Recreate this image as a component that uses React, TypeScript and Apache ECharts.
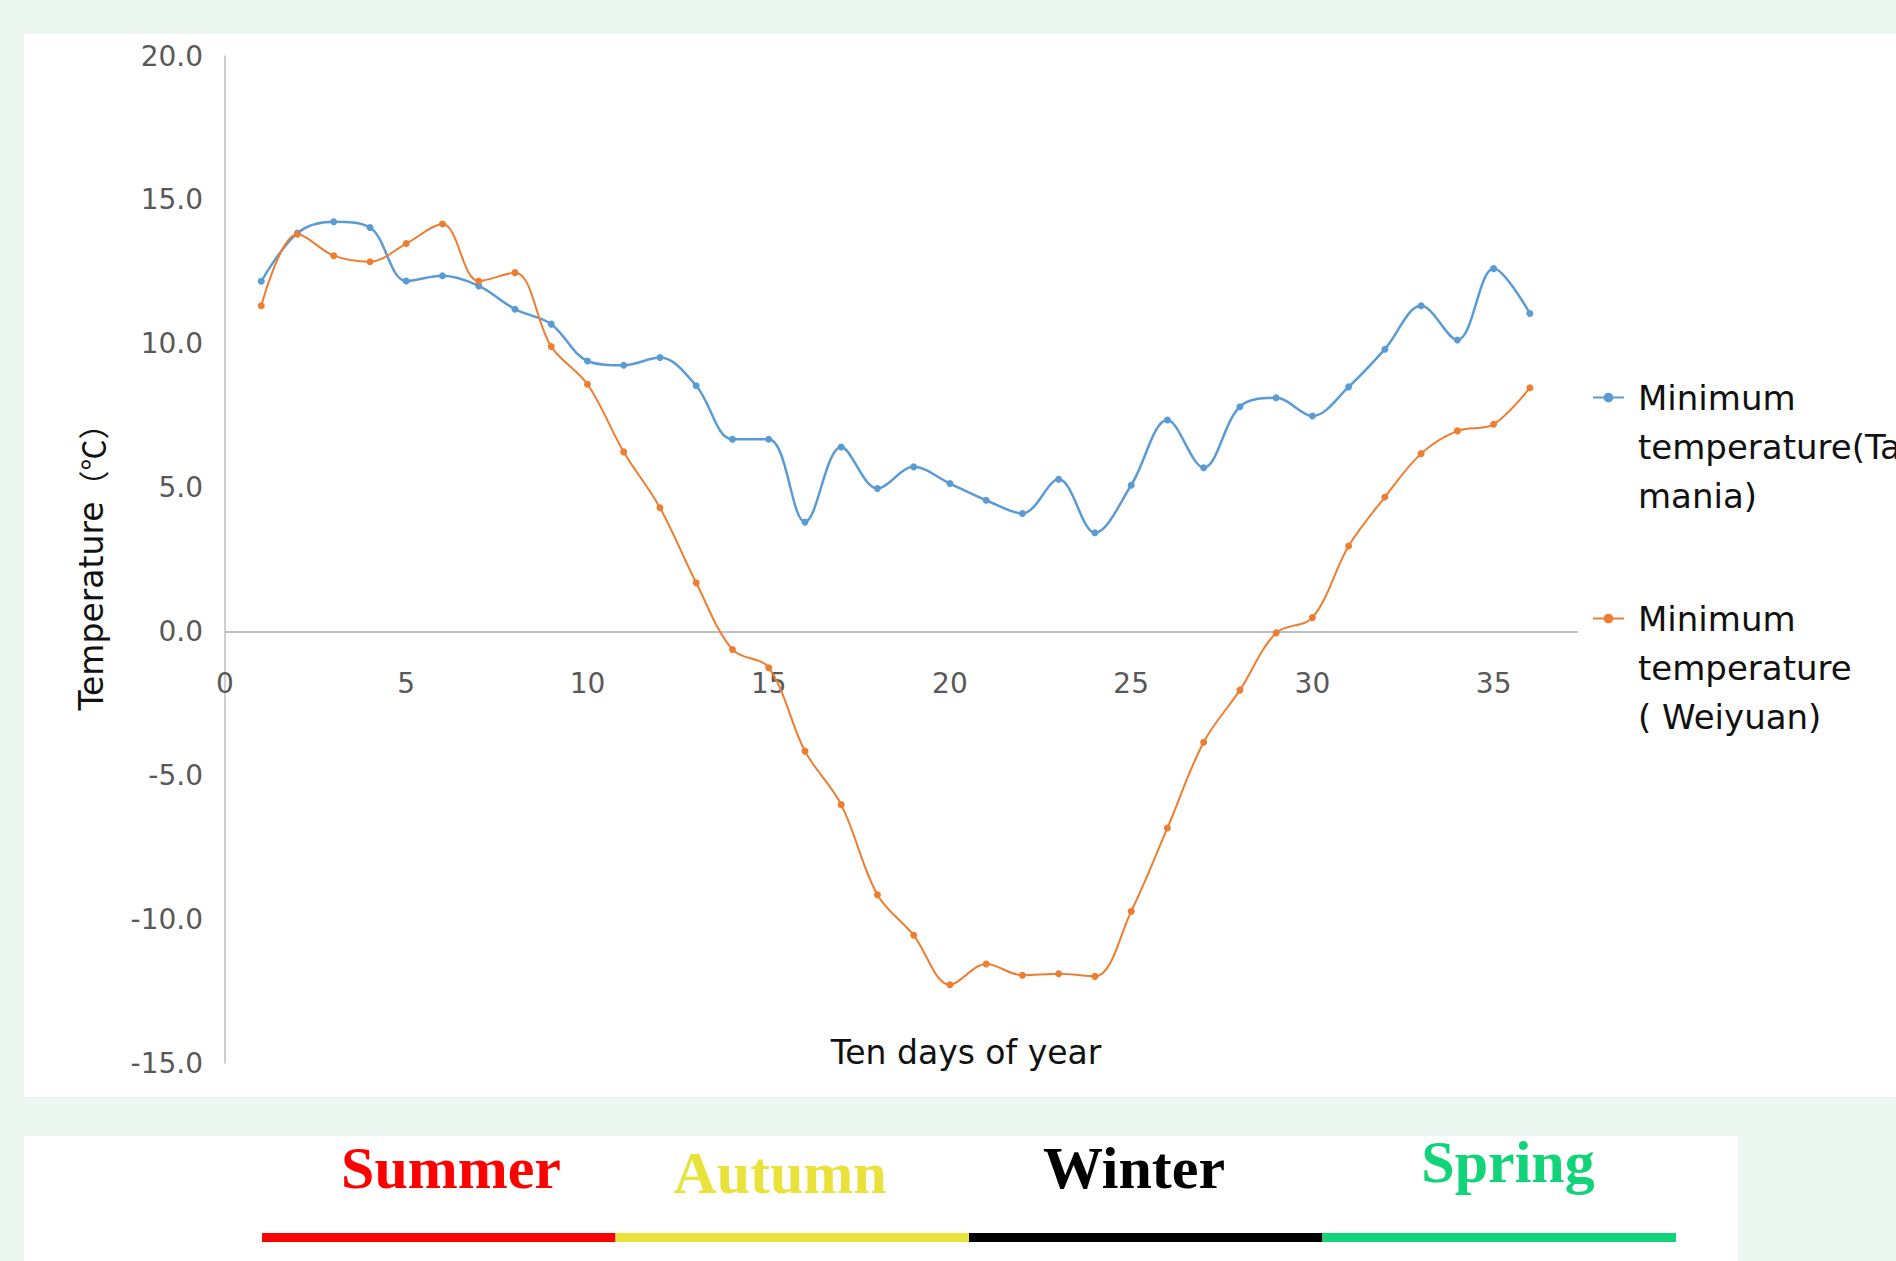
import React, { useEffect, useRef } from "react";
import * as echarts from "echarts";

const days = [1, 2, 3, 4, 5, 6, 7, 8, 9, 10, 11, 12, 13, 14, 15, 16, 17, 18, 19, 20, 21, 22, 23, 24, 25, 26, 27, 28, 29, 30, 31, 32, 33, 34, 35, 36];
const tasmania = [12.17, 13.85, 14.24, 14.04, 12.18, 12.36, 12.01, 11.2, 10.68, 9.4, 9.25, 9.52, 8.54, 6.68, 6.68, 3.8, 6.41, 4.97, 5.72, 5.14, 4.56, 4.1, 5.29, 3.43, 5.08, 7.35, 5.69, 7.81, 8.12, 7.49, 8.5, 9.81, 11.32, 10.13, 12.61, 11.05];
const weiyuan = [11.32, 13.81, 13.06, 12.85, 13.48, 14.16, 12.18, 12.47, 9.9, 8.59, 6.24, 4.3, 1.69, -0.63, -1.26, -4.16, -6.02, -9.15, -10.56, -12.28, -11.56, -11.95, -11.9, -11.99, -9.73, -6.83, -3.85, -2.04, -0.05, 0.48, 2.97, 4.67, 6.18, 6.97, 7.2, 8.47];
const seriesNames = ["Minimum temperature(Tasmania)", "Minimum temperature( Weiyuan)"];
const legendLabels = ["Minimum\ntemperature(Tas\nmania)", "Minimum\ntemperature\n( Weiyuan)"];
const seasons = ["Summer", "Autumn", "Winter", "Spring"];
const seasonColors = ["#FF0000", "#E8E23A", "#000000", "#10D477"];
const yTitleMain = "Temperature";
const yTitleUnit = "（℃）";
const xTitle = "Ten days of year";

const W = 1896;
const H = 1261;
const seasonTextX = [451, 780, 1134, 1508];
const seasonTextY = [1198, 1203, 1198, 1192];
const barStart = 262;
const barSeg = 353.5;

export default function App() {
  const ref = useRef<HTMLDivElement>(null);
  useEffect(() => {
    document.body.style.margin = "0";
    if (!ref.current) return;
    const chart = echarts.init(ref.current, null, { renderer: "svg" });
    const font = "DejaVu Sans";
    const graphics: any[] = [
      { type: "rect", z: -100, silent: true, shape: { x: 24, y: 34, width: W - 24, height: 1063 }, style: { fill: "#FFFFFF" } },
      { type: "rect", z: -100, silent: true, shape: { x: 24, y: 1136, width: 1714, height: H - 1136 }, style: { fill: "#FFFFFF" } },
    ];
    seasons.forEach((s, i) => {
      graphics.push({
        type: "rect",
        silent: true,
        shape: { x: barStart + i * barSeg, y: 1233, width: barSeg, height: 9 },
        style: { fill: seasonColors[i] },
      });
      graphics.push({
        type: "text",
        silent: true,
        x: seasonTextX[i],
        y: seasonTextY[i],
        style: {
          text: s,
          fill: seasonColors[i],
          font: "bold 60px 'Liberation Serif'",
          textAlign: "center",
          textVerticalAlign: "bottom",
        },
      });
    });
    const mkLegend = (i: number, top: number) => ({
      show: true,
      data: [seriesNames[i]],
      orient: "vertical",
      left: 1592,
      top,
      padding: 0,
      itemWidth: 31,
      itemHeight: 12,
      formatter: () => "\n\n" + legendLabels[i],
      textStyle: {
        fontFamily: font,
        fontSize: 34,
        lineHeight: 49,
        color: "#111111",
        padding: [0, 0, 0, 9],
      },
    });
    const gridTop = 56;
    const gridH = 1007;
    const yMin = -15;
    const yMax = 20;
    const zeroOffset = gridH * (0 - yMin) / (yMax - yMin);
    chart.setOption({
      animation: false,
      backgroundColor: "#EDF7F1",
      textStyle: { fontFamily: font },
      grid: { left: 225, top: gridTop, width: 1352, height: gridH, containLabel: false, outerBoundsMode: "none" },
      legend: [mkLegend(0, 275), mkLegend(1, 496)],
      xAxis: {
        type: "value",
        min: 0,
        max: 37.3,
        interval: 5,
        offset: -zeroOffset,
        name: xTitle,
        nameLocation: "middle",
        nameGap: 405,
        nameTextStyle: { fontFamily: font, fontSize: 33, color: "#111111", padding: [0, 0, 0, 130] },
        axisLine: { show: true, onZero: false, lineStyle: { color: "#BFBFBF", width: 2 } },
        axisTick: { show: false },
        splitLine: { show: false },
        axisLabel: {
          showMaxLabel: false,
          margin: 38,
          fontFamily: font,
          fontSize: 28,
          color: "#595959",
          formatter: (v: number) => String(Math.round(v)),
        },
      },
      yAxis: {
        type: "value",
        min: yMin,
        max: yMax,
        interval: 5,
        name: "{a|" + yTitleMain + "}{b|" + yTitleUnit + "}",
        nameLocation: "middle",
        nameRotate: 90,
        nameGap: 117,
        nameTextStyle: {
          fontFamily: font,
          fontSize: 33,
          color: "#111111",
          rich: {
            a: { fontFamily: font, fontSize: 33, color: "#111111" },
            b: { fontFamily: "'Noto Sans CJK SC'", fontSize: 31, color: "#111111" },
          },
        },
        axisLine: { show: true, lineStyle: { color: "#BFBFBF", width: 1.5 } },
        axisTick: { show: false },
        splitLine: { show: false },
        axisLabel: {
          margin: 22,
          fontFamily: font,
          fontSize: 28,
          color: "#595959",
          formatter: (v: number) => v.toFixed(1),
        },
      },
      series: [
        {
          name: seriesNames[0],
          type: "line",
          smooth: 0.35,
          symbol: "circle",
          symbolSize: 7,
          data: days.map((d, i) => [d, tasmania[i]]),
          lineStyle: { color: "#5B9BD5", width: 2.5 },
          itemStyle: { color: "#5B9BD5" },
        },
        {
          name: seriesNames[1],
          type: "line",
          smooth: 0.35,
          symbol: "circle",
          symbolSize: 7,
          data: days.map((d, i) => [d, weiyuan[i]]),
          lineStyle: { color: "#ED7D31", width: 2 },
          itemStyle: { color: "#ED7D31" },
        },
      ],
      graphic: graphics,
    });
    return () => chart.dispose();
  }, []);
  return <div ref={ref} style={{ width: W, height: H }} />;
}
